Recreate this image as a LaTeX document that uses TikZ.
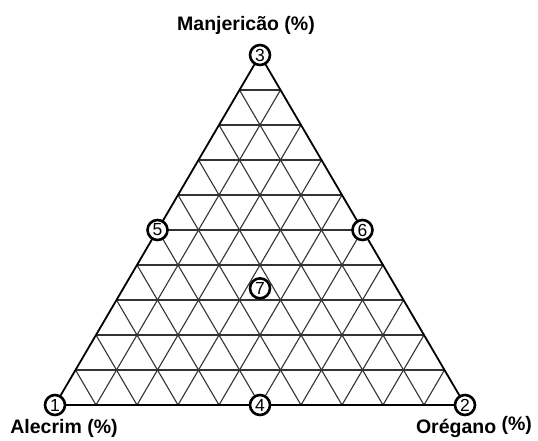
\documentclass[tikz,border=0pt]{standalone}
\usepackage{fontspec}
\setmainfont{Liberation Sans}
\usepackage{tikz}
\usetikzlibrary{calc, positioning}

\begin{document}
\begin{tikzpicture}[x=1pt, y=-1pt]
\tikzstyle{grid}=[draw=black!80, line width=1.1pt]
\tikzstyle{border}=[draw=black, line width=1.8pt, line join=miter]
\tikzstyle{point}=[circle, draw=black, line width=2.6pt, fill=white,
  inner sep=0pt, minimum size=20pt, font=\fontsize{17.5}{17.5}\selectfont]
\tikzstyle{label}=[font=\fontsize{19.5}{22}\selectfont\bfseries]

\useasboundingbox (0,0) rectangle (538,441);

\coordinate (A) at (55,405);
\coordinate (B) at (465,405);
\coordinate (C) at (260,55);

% grid, ten parts on each side
\foreach \i in {1,...,9} {
  \draw [grid] ($(A)!\i/10!(C)$) -- ($(B)!\i/10!(C)$);
  \draw [grid] ($(A)!\i/10!(B)$) -- ($(C)!\i/10!(B)$);
  \draw [grid] ($(B)!\i/10!(A)$) -- ($(C)!\i/10!(A)$);
}
\draw [border] (A) -- (B) -- (C) -- cycle;

\node (p1) [point] at (A) {1};
\node (p2) [point] at (B) {2};
\node (p3) [point] at (C) {3};
\node (p4) [point] at ($(A)!0.5!(B)$) {4};
\node (p5) [point] at ($(A)!0.5!(C)$) {5};
\node (p6) [point] at ($(B)!0.5!(C)$) {6};
\node (p7) [point] at ($1/3*(A)+1/3*(B)+1/3*(C)$) {7};

\node (manjericao) [label] at (246,25) {Manjericão (\%)};
\node (alecrim) [label] at (64,428) {Alecrim (\%)};
\node (oregano) [label] at (474,427) {Orégano \raisebox{2.5pt}{(\%)}};
\end{tikzpicture}
\end{document}
